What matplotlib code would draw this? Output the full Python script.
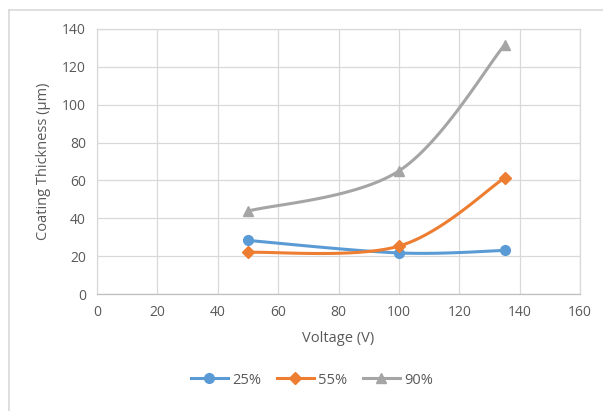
import numpy as np
import matplotlib
matplotlib.use("Agg")
import matplotlib.pyplot as plt
from matplotlib.lines import Line2D

voltage = [50, 100, 135]
thick_25 = [28.3, 21.7, 23.0]
thick_55 = [22.0, 25.3, 61.3]
thick_90 = [43.8, 65.0, 131.5]
series_labels = ["25%", "55%", "90%"]
x_ticks = [0, 20, 40, 60, 80, 100, 120, 140, 160]
y_ticks = [0, 20, 40, 60, 80, 100, 120, 140]

colors = ["#5B9BD5", "#ED7D31", "#A5A5A5"]
markers = ["o", "D", "^"]
msizes = [7, 6, 7.5]

plt.rcParams["font.family"] = ["Open Sans", "DejaVu Sans"]


def smooth(xs, ys, n=60):
    """Bezier smoothing through the points (control points at 1/6 of the neighbour span)."""
    xs = np.asarray(xs, float)
    ys = np.asarray(ys, float)
    px, py = [], []
    m = len(xs)
    for i in range(m - 1):
        i0 = max(i - 1, 0)
        i3 = min(i + 2, m - 1)
        p0 = np.array([xs[i], ys[i]])
        p1 = np.array([xs[i + 1], ys[i + 1]])
        c1 = p0 + (p1 - np.array([xs[i0], ys[i0]])) / 6.0
        c2 = p1 - (np.array([xs[i3], ys[i3]]) - p0) / 6.0
        t = np.linspace(0, 1, n)[:, None]
        pts = ((1 - t) ** 3) * p0 + 3 * ((1 - t) ** 2) * t * c1 + 3 * (1 - t) * t ** 2 * c2 + t ** 3 * p1
        px.extend(pts[:, 0])
        py.extend(pts[:, 1])
    return px, py


fig = plt.figure(figsize=(6.03, 4.11), dpi=100)
ax = fig.add_axes([97 / 603, 1 - 294 / 411, (580 - 97) / 603, (294 - 29) / 411])

for ys, c, mk, ms in zip([thick_25, thick_55, thick_90], colors, markers, msizes):
    sx, sy = smooth(voltage, ys)
    ax.plot(sx, sy, color=c, lw=2.2, solid_capstyle="round", zorder=3)
    ax.plot(voltage, ys, ls="none", marker=mk, ms=ms, color=c, mec=c, zorder=4)

ax.set_xlim(0, 160)
ax.set_ylim(0, 140)
ax.set_xticks(x_ticks)
ax.set_yticks(y_ticks)
ax.grid(True, color="#D9D9D9", lw=0.9)
ax.set_axisbelow(True)
for s in ax.spines.values():
    s.set_color("#D9D9D9")
    s.set_linewidth(0.9)
ax.spines["bottom"].set_color("#BFBFBF")
ax.tick_params(length=0, labelsize=10, labelcolor="#595959", pad=8)
ax.set_xlabel("Voltage (V)", fontsize=10.5, color="#595959", labelpad=8)
ax.set_ylabel("Coating Thickness (μm)", fontsize=10.5, color="#595959", labelpad=8)

handles = [Line2D([0], [0], color=c, lw=2.2, marker=mk, ms=ms, mec=c)
           for c, mk, ms in zip(colors, markers, msizes)]
fig.legend(handles, series_labels, loc="center", bbox_to_anchor=(312 / 603, 1 - 380 / 411),
           ncol=3, frameon=False, fontsize=10.5, labelcolor="#595959",
           handlelength=2.5, columnspacing=1.1, handletextpad=0.3)

# outer chart frame (top and left edges)
fig.add_artist(Line2D([9 / 603, 1], [1 - 10 / 411, 1 - 10 / 411], color="#D9D9D9", lw=1.2,
                      transform=fig.transFigure))
fig.add_artist(Line2D([9 / 603, 9 / 603], [0, 1 - 10 / 411], color="#D9D9D9", lw=1.2,
                      transform=fig.transFigure))

fig.savefig("out.png", dpi=100)
